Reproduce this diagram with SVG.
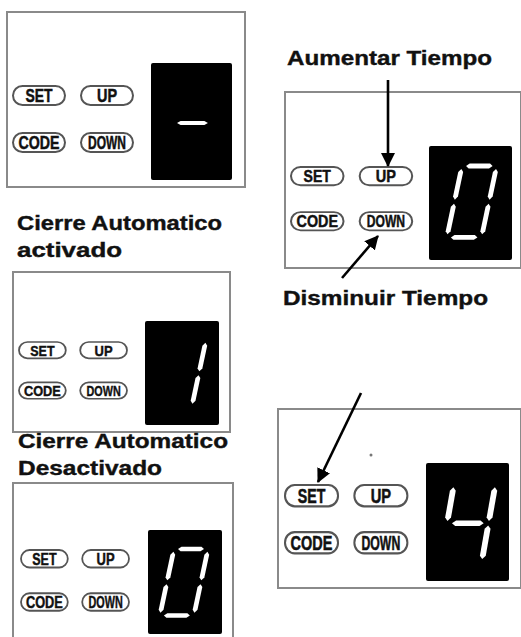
<svg xmlns="http://www.w3.org/2000/svg" xmlns:xlink="http://www.w3.org/1999/xlink" width="521" height="637" viewBox="0 0 521 637">
<defs>
<style>
.frame{fill:#fff;stroke:#8a8a8a;stroke-width:2}
.disp{fill:#000}
.pill{fill:#fff;stroke:#555;stroke-width:2}
.bl{font-family:"Liberation Sans",Arial,sans-serif;font-weight:bold;font-size:18px;fill:#111;stroke:#111;stroke-width:0.5;text-anchor:middle}
.title{font-family:"Liberation Sans",Arial,sans-serif;font-weight:bold;font-size:20.5px;fill:#111;stroke:#111;stroke-width:0.4}
.seg{fill:#fff}
.arrow{stroke:#000;stroke-width:2.6;fill:none;marker-end:url(#ah)}
</style>
<marker id="ah" viewBox="0 0 14 14" refX="13" refY="7" markerWidth="14" markerHeight="14" markerUnits="userSpaceOnUse" orient="auto">
<path d="M0,0 L14,7 L0,14 z" fill="#000"/>
</marker>
<polygon id="sh" points="0,0 3,-2.4 23,-2.4 26,0 23,2.4 3,2.4"/>
<polygon id="sv" points="0,0 2.4,3 2.4,27 0,30 -2.4,27 -2.4,3"/>
</defs>
<rect width="521" height="637" fill="#fff"/>

<g id="panel1">
<rect class="frame" x="7" y="12" width="238" height="175"/>
<rect class="disp" x="151" y="63" width="81" height="117" rx="2"/>
<use href="#sh" class="seg" transform="translate(177,123) scale(1.19,0.8)"/>
<g transform="translate(13,86)">
<rect class="pill" x="0" y="0" width="52" height="19" rx="9.5"/><text class="bl" x="26" y="16" textLength="27" lengthAdjust="spacingAndGlyphs">SET</text>
<rect class="pill" x="68" y="0" width="52" height="19" rx="9.5"/><text class="bl" x="94" y="16" textLength="20" lengthAdjust="spacingAndGlyphs">UP</text>
<rect class="pill" x="0" y="47" width="52" height="19" rx="9.5"/><text class="bl" x="26" y="63" textLength="41" lengthAdjust="spacingAndGlyphs">CODE</text>
<rect class="pill" x="68" y="47" width="52" height="19" rx="9.5"/><text class="bl" x="94" y="63" textLength="38" lengthAdjust="spacingAndGlyphs">DOWN</text>
</g>
</g>

<g id="panel2">
<text class="title" x="287" y="65" textLength="205" lengthAdjust="spacingAndGlyphs">Aumentar Tiempo</text>
<rect class="frame" x="285" y="92" width="236" height="176"/>
<rect class="disp" x="429" y="146" width="83" height="114" rx="2"/>
<g class="seg" transform="translate(462,166) skewX(-12) scale(1.02,1.02)">
<use href="#sh" x="4" y="0"/><use href="#sv" x="0" y="3"/><use href="#sv" x="34" y="3"/>
<use href="#sv" x="0" y="37"/><use href="#sv" x="34" y="37"/><use href="#sh" x="4" y="70"/>
</g>
<g transform="translate(291,167) scale(1.01,0.96)">
<rect class="pill" x="0" y="0" width="52" height="19" rx="9.5"/><text class="bl" x="26" y="16" textLength="27" lengthAdjust="spacingAndGlyphs">SET</text>
<rect class="pill" x="68" y="0" width="52" height="19" rx="9.5"/><text class="bl" x="94" y="16" textLength="20" lengthAdjust="spacingAndGlyphs">UP</text>
<rect class="pill" x="0" y="47" width="52" height="19" rx="9.5"/><text class="bl" x="26" y="63" textLength="41" lengthAdjust="spacingAndGlyphs">CODE</text>
<rect class="pill" x="68" y="47" width="52" height="19" rx="9.5"/><text class="bl" x="94" y="63" textLength="38" lengthAdjust="spacingAndGlyphs">DOWN</text>
</g>
<text class="title" x="283" y="305" textLength="205" lengthAdjust="spacingAndGlyphs">Disminuir Tiempo</text>
</g>

<g id="panel3">
<text class="title" x="17" y="230" textLength="205" lengthAdjust="spacingAndGlyphs">Cierre Automatico</text>
<text class="title" x="17" y="257" textLength="105" lengthAdjust="spacingAndGlyphs">activado</text>
<rect class="frame" x="13" y="272" width="217" height="160"/>
<rect class="disp" x="145" y="321" width="74" height="104" rx="2"/>
<g class="seg" transform="translate(172,340) skewX(-12) scale(1,0.95)">
<use href="#sv" x="34" y="3"/><use href="#sv" x="34" y="37"/>
</g>
<g transform="translate(19,342) scale(0.9,0.86)">
<rect class="pill" x="0" y="0" width="52" height="19" rx="9.5"/><text class="bl" x="26" y="16" textLength="27" lengthAdjust="spacingAndGlyphs">SET</text>
<rect class="pill" x="68" y="0" width="52" height="19" rx="9.5"/><text class="bl" x="94" y="16" textLength="20" lengthAdjust="spacingAndGlyphs">UP</text>
<rect class="pill" x="0" y="47" width="52" height="19" rx="9.5"/><text class="bl" x="26" y="63" textLength="41" lengthAdjust="spacingAndGlyphs">CODE</text>
<rect class="pill" x="68" y="47" width="52" height="19" rx="9.5"/><text class="bl" x="94" y="63" textLength="38" lengthAdjust="spacingAndGlyphs">DOWN</text>
</g>
</g>

<g id="panel4">
<text class="title" x="18" y="448" textLength="210" lengthAdjust="spacingAndGlyphs">Cierre Automatico</text>
<text class="title" x="18" y="475" textLength="144" lengthAdjust="spacingAndGlyphs">Desactivado</text>
<rect class="frame" x="13" y="483" width="220" height="170"/>
<rect class="disp" x="148" y="530" width="74" height="104" rx="2"/>
<g class="seg" transform="translate(174,549) skewX(-12) scale(1,0.95)">
<use href="#sh" x="4" y="0"/><use href="#sv" x="0" y="3"/><use href="#sv" x="34" y="3"/>
<use href="#sv" x="0" y="37"/><use href="#sv" x="34" y="37"/><use href="#sh" x="4" y="70"/>
</g>
<g transform="translate(21,550) scale(0.9,0.92)">
<rect class="pill" x="0" y="0" width="52" height="19" rx="9.5"/><text class="bl" x="26" y="16" textLength="27" lengthAdjust="spacingAndGlyphs">SET</text>
<rect class="pill" x="68" y="0" width="52" height="19" rx="9.5"/><text class="bl" x="94" y="16" textLength="20" lengthAdjust="spacingAndGlyphs">UP</text>
<rect class="pill" x="0" y="47" width="52" height="19" rx="9.5"/><text class="bl" x="26" y="63" textLength="41" lengthAdjust="spacingAndGlyphs">CODE</text>
<rect class="pill" x="68" y="47" width="52" height="19" rx="9.5"/><text class="bl" x="94" y="63" textLength="38" lengthAdjust="spacingAndGlyphs">DOWN</text>
</g>
</g>

<g id="panel5">
<rect class="frame" x="278" y="409" width="243" height="179"/>
<circle cx="371" cy="455" r="1.5" fill="#777"/>
<rect class="disp" x="426" y="463" width="83" height="118" rx="2"/>
<g class="seg" transform="translate(454,484) skewX(-10) scale(1.22,1.12)">
<use href="#sv" x="0" y="3"/><use href="#sv" x="34" y="3"/><use href="#sh" x="4" y="35"/><use href="#sv" x="34" y="37"/>
</g>
<g transform="translate(285,485) scale(1.02,1.12)">
<rect class="pill" x="0" y="0" width="52" height="19" rx="9.5"/><text class="bl" x="26" y="16" textLength="27" lengthAdjust="spacingAndGlyphs">SET</text>
<rect class="pill" x="68" y="0" width="52" height="19" rx="9.5"/><text class="bl" x="94" y="16" textLength="20" lengthAdjust="spacingAndGlyphs">UP</text>
<rect class="pill" x="0" y="42" width="52" height="19" rx="9.5"/><text class="bl" x="26" y="58" textLength="41" lengthAdjust="spacingAndGlyphs">CODE</text>
<rect class="pill" x="68" y="42" width="52" height="19" rx="9.5"/><text class="bl" x="94" y="58" textLength="38" lengthAdjust="spacingAndGlyphs">DOWN</text>
</g>
</g>

<g id="connectors">
<line class="arrow" x1="388" y1="80" x2="388" y2="166"/>
<line class="arrow" x1="342" y1="278" x2="378" y2="236"/>
<line class="arrow" x1="361" y1="393" x2="318" y2="482"/>
</g>
</svg>
